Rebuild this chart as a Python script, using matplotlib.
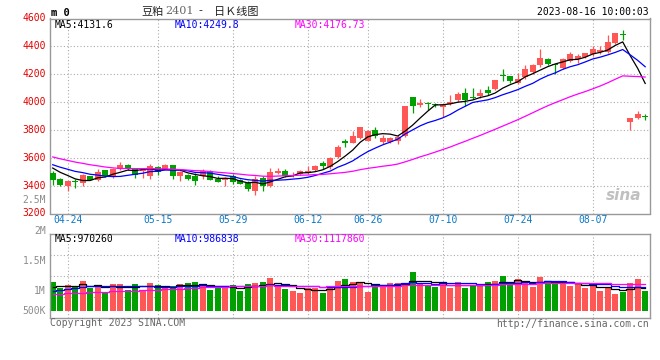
import matplotlib
matplotlib.use('Agg')
import matplotlib.pyplot as plt
import numpy as np
import pandas as pd

# ---------------- data ----------------
dates = ['04-20', '04-21', '04-24', '04-25', '04-26', '04-27', '04-28',
         '05-04', '05-05', '05-08', '05-09', '05-10', '05-11', '05-12',
         '05-15', '05-16', '05-17', '05-18', '05-19',
         '05-22', '05-23', '05-24', '05-25', '05-26',
         '05-29', '05-30', '05-31', '06-01', '06-02',
         '06-05', '06-06', '06-07', '06-08', '06-09',
         '06-12', '06-13', '06-14', '06-15', '06-16',
         '06-19', '06-20', '06-21',
         '06-26', '06-27', '06-28', '06-29', '06-30',
         '07-03', '07-04', '07-05', '07-06', '07-07',
         '07-10', '07-11', '07-12', '07-13', '07-14',
         '07-17', '07-18', '07-19', '07-20', '07-21',
         '07-24', '07-25', '07-26', '07-27', '07-28', '07-31',
         '08-01', '08-02', '08-03', '08-04',
         '08-07', '08-08', '08-09', '08-10', '08-11',
         '08-14', '08-15', '08-16']

opens = [3490, 3448, 3400, 3431, 3419, 3467, 3443, 3510, 3462, 3521,
         3550, 3519, 3502, 3469, 3533, 3514, 3550, 3467, 3479, 3471,
         3467, 3502, 3448, 3438, 3467, 3438, 3421, 3360, 3455, 3400,
         3493, 3507, 3474, 3483, 3490, 3514, 3566, 3531, 3609, 3724,
         3709, 3740, 3724, 3800, 3710, 3710, 3717, 3757, 4033, 3976,
         3995, 3983, 3962, 3988, 4014, 4062, 4038, 4043, 4086, 4093,
         4193, 4186, 4138, 4181, 4217, 4264, 4312, 4271, 4248, 4295,
         4307, 4324, 4348, 4360, 4360, 4424, 4486, 3860, 3883, 3902]
highs = [3502, 3455, 3436, 3448, 3482, 3471, 3519, 3514, 3526, 3569,
         3555, 3521, 3526, 3557, 3543, 3557, 3550, 3502, 3486, 3490,
         3521, 3514, 3467, 3462, 3486, 3448, 3433, 3467, 3467, 3526,
         3526, 3519, 3495, 3514, 3543, 3550, 3574, 3609, 3693, 3738,
         3795, 3824, 3800, 3819, 3764, 3752, 3764, 3971, 4033, 4019,
         4002, 3990, 3983, 4050, 4074, 4102, 4102, 4093, 4114, 4162,
         4236, 4186, 4212, 4264, 4276, 4378, 4319, 4276, 4317, 4360,
         4348, 4355, 4400, 4400, 4479, 4495, 4514, 3888, 3938, 3912]
lows = [3407, 3395, 3360, 3383, 3400, 3438, 3431, 3462, 3455, 3510,
        3514, 3455, 3455, 3448, 3479, 3510, 3448, 3431, 3443, 3407,
        3448, 3438, 3424, 3400, 3414, 3412, 3360, 3336, 3360, 3388,
        3486, 3462, 3459, 3479, 3483, 3502, 3521, 3521, 3598, 3676,
        3705, 3733, 3717, 3740, 3700, 3705, 3700, 3752, 3924, 3967,
        3943, 3964, 3895, 3979, 4002, 3974, 4021, 4026, 4050, 4086,
        4152, 4138, 4133, 4169, 4205, 4252, 4264, 4200, 4240, 4288,
        4281, 4319, 4328, 4348, 4355, 4414, 4448, 3800, 3876, 3871]
closes = [3443, 3402, 3436, 3424, 3479, 3443, 3498, 3467, 3521, 3550,
          3521, 3479, 3510, 3543, 3495, 3550, 3471, 3495, 3450, 3436,
          3502, 3443, 3428, 3455, 3424, 3414, 3379, 3448, 3395, 3498,
          3507, 3471, 3478, 3502, 3507, 3543, 3538, 3602, 3674, 3705,
          3757, 3819, 3793, 3757, 3740, 3740, 3752, 3971, 3971, 3995,
          3983, 3976, 3979, 4002, 4055, 4014, 4026, 4067, 4062, 4157,
          4188, 4152, 4169, 4240, 4269, 4317, 4276, 4267, 4312, 4348,
          4331, 4352, 4383, 4371, 4431, 4495, 4481, 3888, 3914, 3890]
volumes = [1235, 980, 1093, 1051, 1264, 980, 1093, 767, 1136, 1136,
           880, 1136, 880, 1179, 1093, 951, 1051, 1136, 1193, 1235,
           1051, 880, 951, 1051, 1093, 838, 1136, 1193, 1235, 1392,
           1022, 923, 838, 767, 980, 980, 767, 1051, 1264, 1349,
           1235, 1221, 809, 1136, 1093, 1193, 1193, 1150, 1661, 1193,
           1093, 1022, 1235, 980, 1235, 980, 1093, 1093, 1235, 1264,
           1491, 1136, 1349, 1164, 1022, 1448, 1264, 1221, 1164, 1065,
           1150, 980, 1065, 852, 1008, 724, 809, 1193, 1349, 852]  # thousands

# closes / volumes of the 29 sessions before the first visible day (for MA look-back)
prior_closes = [3800, 3790, 3775, 3760, 3745, 3730, 3715, 3700, 3690,
                3520, 3510, 3515, 3507,
                3555, 3562, 3570, 3565, 3558, 3552, 3560,
                3580, 3585, 3575, 3568, 3562,
                3556, 3550, 3545, 3538]
prior_volumes = [600, 620, 650, 630, 680, 610, 660, 640, 700, 620,
                 650, 630, 670, 640, 660, 620, 680, 650, 640, 670,
                 640, 670, 630, 660, 670,
                 900, 980, 1010, 985]

price_ticks = [4600, 4400, 4200, 4000, 3800, 3600, 3400, 3200]
date_labels = ['04-24', '05-15', '05-29', '06-12', '06-26', '07-10', '07-24', '08-07']
ma_periods = [5, 10, 30]
ma_price_text = ['MA5:4131.6', 'MA10:4249.8', 'MA30:4176.73']
ma_vol_text = ['MA5:970260', 'MA10:986838', 'MA30:1117860']
vol_labels = ['2M', '1.5M', '1M', '500K']

# ---------------- style ----------------
W, H = 660, 360
MONO = 'DejaVu Sans Mono'
RED = '#ff5656'
GREEN = '#00a000'
MA_COLORS = ['#000000', '#0000ff', '#ff00ff']
GRID = '#aaaaaa'
FRAME = '#999999'
TICKRED = '#e00000'
DATEBLUE = '#0a78c8'
GRAYTXT = '#8c8c8c'

def fx(x):
    return x / W

def fy(y):
    return 1 - y / H

fig = plt.figure(figsize=(W / 100, H / 100), dpi=100)
fig.patch.set_facecolor('white')

ax = fig.add_axes([fx(50), fy(213.5), 600 / W, 195 / H])
axv = fig.add_axes([fx(50), fy(317.7), 600 / W, 83.4 / H])

n = len(closes)
x = np.arange(n)
o = np.array(opens, float)
h = np.array(highs, float)
l = np.array(lows, float)
c = np.array(closes, float)
v = np.array(volumes, float) * 1000
up = c >= o
cols = np.where(up, RED, GREEN)

def moving_avg(values, prior, period):
    full = pd.Series(list(prior) + list(values), dtype=float)
    return full.rolling(period).mean().values[len(prior):]

for a in (ax, axv):
    a.set_xlim(-0.36, n - 0.36)
    a.set_xticks([])
    a.set_yticks([])
    for s in a.spines.values():
        s.set_color(FRAME)
        s.set_linewidth(1.0)
    for lbl in date_labels:
        a.axvline(dates.index(lbl), color=GRID, lw=0.8, ls=(0, (1, 2)), zorder=0)

# ---------------- price panel ----------------
ax.set_ylim(price_ticks[-1], price_ticks[0])
for pt in price_ticks[1:-1]:
    ax.axhline(pt, color=GRID, lw=0.8, ls=(0, (1, 2)), zorder=0)

ax.vlines(x, l, h, colors=cols, lw=0.9, zorder=2)
body_bottom = np.minimum(o, c)
body_height = np.maximum(np.abs(c - o), 4)
ax.bar(x, body_height, bottom=body_bottom, width=0.8, color=cols, linewidth=0, zorder=3)

for p, col in zip(ma_periods, MA_COLORS):
    ax.plot(x, moving_avg(c, prior_closes, p), color=col, lw=0.9, zorder=4)

ytr = ax.get_yaxis_transform()
for pt in price_ticks:
    ax.text(-0.007, pt, str(pt), transform=ytr, ha='right', va='center',
            color=TICKRED, fontsize=7, family=MONO)
ax.text(-0.007, 1 - (200 - 18.5) / 195, '2.5M', transform=ax.transAxes, ha='right',
        va='center', color=GRAYTXT, fontsize=7, family=MONO)

xtr = ax.get_xaxis_transform()
for lbl in date_labels:
    ax.text(dates.index(lbl), -(220 - 213.5) / 195, lbl, transform=xtr, ha='center',
            va='center', color=DATEBLUE, fontsize=7, family=MONO)

ax.text(0.985, 0.09, 'sina', transform=ax.transAxes, ha='right', va='center',
        color='#c0c0c0', fontsize=11, fontstyle='italic', fontweight='bold',
        family='DejaVu Sans', zorder=1)

# ---------------- volume panel ----------------
vlo, vhi = -298e3, 3255e3
axv.set_ylim(vlo, vhi)
for frac in (0.25, 0.5, 0.75):
    axv.axhline(vlo + frac * (vhi - vlo), color=GRID, lw=0.8, ls=(0, (1, 2)), zorder=0)
axv.bar(x, v, width=0.8, color=cols, linewidth=0, zorder=2)
for p, col in zip(ma_periods, MA_COLORS):
    axv.plot(x, moving_avg(v, np.array(prior_volumes) * 1000, p), color=col, lw=0.9,
             drawstyle='steps-mid', zorder=3)

for lbl, ypx in zip(vol_labels, [231, 260.7, 290.7, 310.7]):
    fig.text(fx(46), fy(ypx), lbl, ha='right', va='center', color=GRAYTXT,
             fontsize=7, family=MONO)

# ---------------- header / footer texts ----------------
fig.text(fx(51), fy(12.5), 'm 0', ha='left', va='center', color='black',
         fontsize=7.5, fontweight='bold', family=MONO)
CJK = ['Noto Sans CJK SC', 'DejaVu Sans']
fig.text(fx(141.5), fy(11.5), '豆粕', ha='left', va='center', color='#222222',
         fontsize=8, family=CJK)
fig.text(fx(165), fy(11.5), '2401', ha='left', va='center', color='#666666',
         fontsize=8, family='DejaVu Serif')
fig.text(fx(200), fy(11.5), '-', ha='center', va='center', color='#222222',
         fontsize=8, family=CJK)
fig.text(fx(214), fy(11.5), '日Ｋ线图', ha='left', va='center', color='#222222',
         fontsize=8, family=CJK)
fig.text(fx(649), fy(12), '2023-08-16 10:00:03', ha='right', va='center',
         color='black', fontsize=7, family=MONO)

for txt, col, xpx in zip(ma_price_text, MA_COLORS, [54.5, 174.5, 295]):
    fig.text(fx(xpx), fy(24.5), txt, ha='left', va='center', color=col,
             fontsize=7, family=MONO)
for txt, col, xpx in zip(ma_vol_text, MA_COLORS, [54.5, 174.5, 295]):
    fig.text(fx(xpx), fy(239), txt, ha='left', va='center', color=col,
             fontsize=7, family=MONO)

fig.text(fx(50), fy(323.5), 'Copyright 2023 SINA.COM', ha='left', va='center',
         color='#666666', fontsize=7, family=MONO)
fig.text(fx(649), fy(324), 'http://finance.sina.com.cn', ha='right', va='center',
         color='#666666', fontsize=7, family=MONO)

fig.savefig('out.png', dpi=100, facecolor='white')
